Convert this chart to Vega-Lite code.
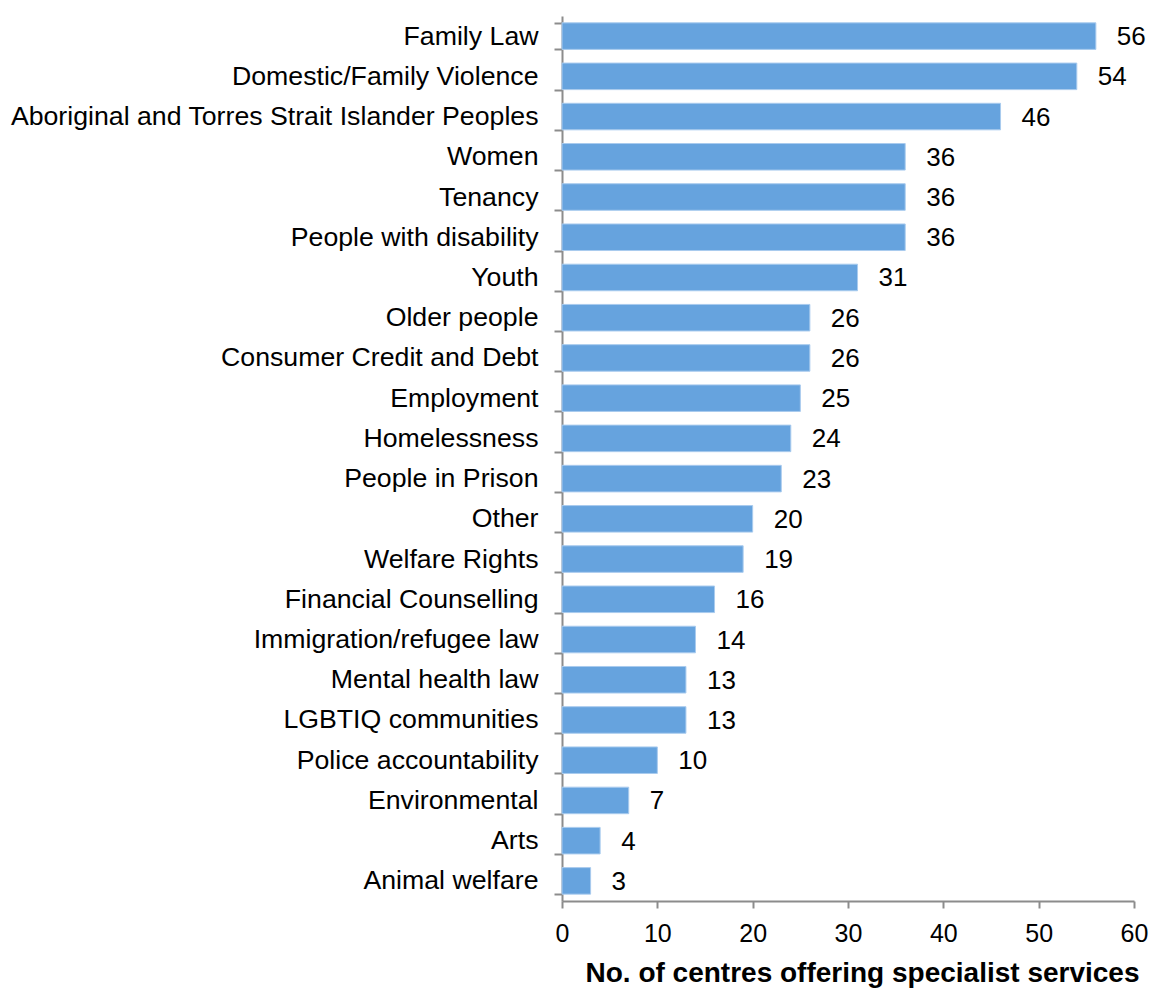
{
  "$schema": "https://vega.github.io/schema/vega-lite/v6.json",
  "autosize": {"type": "none"},
  "padding": {"left": 562, "top": 16, "right": 17, "bottom": 89},
  "width": 572,
  "height": 885,
  "background": "white",
  "config": {"view": {"stroke": null}, "font": "Liberation Sans"},
  "data": {"values": [
    {"category": "Family Law", "value": 56},
    {"category": "Domestic/Family Violence", "value": 54},
    {"category": "Aboriginal and Torres Strait Islander Peoples", "value": 46},
    {"category": "Women", "value": 36},
    {"category": "Tenancy", "value": 36},
    {"category": "People with disability", "value": 36},
    {"category": "Youth", "value": 31},
    {"category": "Older people", "value": 26},
    {"category": "Consumer Credit and Debt", "value": 26},
    {"category": "Employment", "value": 25},
    {"category": "Homelessness", "value": 24},
    {"category": "People in Prison", "value": 23},
    {"category": "Other", "value": 20},
    {"category": "Welfare Rights", "value": 19},
    {"category": "Financial Counselling", "value": 16},
    {"category": "Immigration/refugee law", "value": 14},
    {"category": "Mental health law", "value": 13},
    {"category": "LGBTIQ communities", "value": 13},
    {"category": "Police accountability", "value": 10},
    {"category": "Environmental", "value": 7},
    {"category": "Arts", "value": 4},
    {"category": "Animal welfare", "value": 3}
  ]},
  "encoding": {
    "y": {
      "field": "category", "type": "nominal", "sort": null,
      "scale": {"paddingInner": 0.34, "paddingOuter": 0.17},
      "axis": {
        "title": null, "labelFontSize": 26.7, "labelColor": "#000000",
        "labelPadding": 16, "tickBand": "extent", "tickSize": 8,
        "tickColor": "#8c8c8c", "tickWidth": 2, "domainColor": "#8c8c8c", "domainWidth": 2,
        "labelLimit": 600
      }
    },
    "x": {
      "field": "value", "type": "quantitative",
      "scale": {"domain": [0, 60], "nice": false},
      "axis": {
        "title": "No. of centres offering specialist services",
        "titleFontSize": 28, "titleFontWeight": "bold", "titleColor": "#000000", "titlePadding": 13,
        "titleX": 300,
        "values": [0, 10, 20, 30, 40, 50, 60],
        "labelFontSize": 25, "labelColor": "#000000", "labelPadding": 13, "labelFlush": false,
        "tickSize": 7, "tickColor": "#8c8c8c", "tickWidth": 2,
        "domainColor": "#8c8c8c", "domainWidth": 2, "grid": false
      }
    }
  },
  "layer": [
    {"mark": {"type": "bar", "color": "#66a3de", "stroke": "#a9cbee", "strokeWidth": 1}},
    {"mark": {"type": "text", "align": "left", "baseline": "middle", "dx": 21, "dy": 1, "fontSize": 26, "color": "#000000"},
     "encoding": {"text": {"field": "value", "type": "quantitative"}}}
  ]
}
